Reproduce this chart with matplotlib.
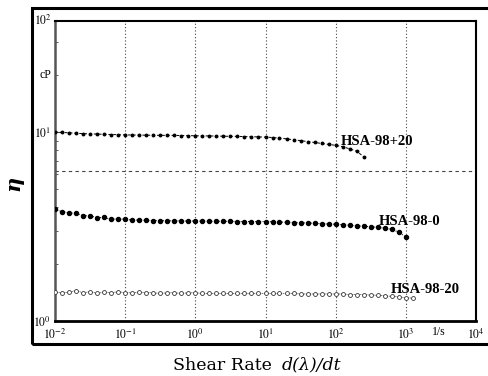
import matplotlib
matplotlib.use("Agg")
import matplotlib.pyplot as plt
from matplotlib.patches import Rectangle
from matplotlib.ticker import FixedLocator, LogLocator, NullFormatter

# shear rate grid (1/s), 10 points per decade
shear_rate = [0.01, 0.0126, 0.0158, 0.02, 0.0251, 0.0316, 0.0398, 0.0501, 0.0631, 0.0794,
              0.1, 0.126, 0.158, 0.2, 0.251, 0.316, 0.398, 0.501, 0.631, 0.794,
              1.0, 1.26, 1.58, 2.0, 2.51, 3.16, 3.98, 5.01, 6.31, 7.94,
              10.0, 12.6, 15.8, 20.0, 25.1, 31.6, 39.8, 50.1, 63.1, 79.4,
              100.0, 126.0, 158.0, 200.0, 251.0, 316.0, 398.0, 501.0, 631.0, 794.0,
              1000.0, 1259.0]

eta_plus20 = [10.0, 9.95, 9.9, 9.85, 9.8, 9.78, 9.75, 9.72, 9.7, 9.68,
              9.65, 9.64, 9.63, 9.62, 9.61, 9.6, 9.6, 9.59, 9.58, 9.57,
              9.55, 9.54, 9.53, 9.52, 9.5, 9.49, 9.48, 9.46, 9.44, 9.42,
              9.4, 9.35, 9.28, 9.2, 9.1, 9.0, 8.9, 8.8, 8.7, 8.6,
              8.5, 8.35, 8.15, 7.9, 7.4]

eta_0 = [3.9, 3.79, 3.74, 3.71, 3.61, 3.6, 3.52, 3.53, 3.45, 3.47,
         3.45, 3.42, 3.42, 3.41, 3.4, 3.4, 3.39, 3.39, 3.38, 3.38,
         3.38, 3.38, 3.37, 3.37, 3.37, 3.37, 3.36, 3.36, 3.36, 3.36,
         3.36, 3.35, 3.34, 3.33, 3.32, 3.31, 3.3, 3.29, 3.27, 3.26,
         3.25, 3.23, 3.21, 3.19, 3.17, 3.15, 3.13, 3.1, 3.05, 2.95, 2.78]

eta_minus20 = [1.42, 1.41, 1.42, 1.45, 1.41, 1.43, 1.40, 1.42, 1.41, 1.43,
               1.41, 1.41, 1.42, 1.41, 1.41, 1.40, 1.41, 1.41, 1.40, 1.41,
               1.41, 1.40, 1.40, 1.40, 1.40, 1.40, 1.40, 1.40, 1.40, 1.40,
               1.40, 1.40, 1.40, 1.40, 1.40, 1.39, 1.39, 1.39, 1.39, 1.39,
               1.39, 1.39, 1.38, 1.38, 1.38, 1.37, 1.37, 1.36, 1.35, 1.34,
               1.33, 1.32]

series_labels = ["HSA-98+20", "HSA-98-0", "HSA-98-20"]
label_pos = [(118, 8.96), (410, 3.38), (614, 1.46)]

x_ticks = [0.01, 0.1, 1, 10, 100, 1000, 10000]
x_ticklabels = ["$10^{-2}$", "$10^{-1}$", "$10^{0}$", "$10^{1}$", "$10^{2}$", "$10^{3}$", "$10^{4}$"]
y_ticks = [1, 10]
y_ticklabels = ["$10^{0}$", "$10^{1}$"]

plt.rcParams['mathtext.fontset'] = 'stix'
fig = plt.figure(figsize=(4.88, 3.76), dpi=100)
fig.patch.set_facecolor('white')

# outer frame
fig.patches.append(Rectangle((32/488, 1-344/376), 1.2, (344-8)/376, transform=fig.transFigure,
                             fill=False, lw=2.2, ec='black'))

ax = fig.add_axes([55/488, 1-321/376, (476-55)/488, 300/376])
ax.set_xscale('log')
ax.set_yscale('log')
ax.set_xlim(0.01, 10000)
ax.set_ylim(1, 10**(300/189))

# grid
for xv in [0.1, 1, 10, 100, 1000]:
    ax.axvline(xv, color='#444444', lw=0.8, ls=(0, (1, 2)), zorder=1)
ax.axhline(10**(150/189), color='#444444', lw=0.8, ls=(0, (3, 3)), zorder=1)

n1 = len(eta_plus20)
ax.plot(shear_rate[:n1], eta_plus20, ls=(0, (3, 2)), lw=0.7, color='black',
        marker='o', ms=1.8, mfc='black', mec='black', zorder=3)
n2 = len(eta_0)
ax.plot(shear_rate[:n2], eta_0, ls=(0, (1, 1.5)), lw=0.7, color='black',
        marker='o', ms=2.9, mfc='black', mec='black', zorder=3)
n3 = len(eta_minus20)
ax.plot(shear_rate[:n3], eta_minus20, ls=(0, (2, 1)), lw=0.5, color='#444444',
        marker='o', ms=2.8, mfc='white', mec='#333333', mew=0.6, zorder=3)

for lab, (xv, yv) in zip(series_labels, label_pos):
    ax.text(xv, yv, lab, fontsize=10.5, fontweight='bold', family='Liberation Serif',
            ha='left', va='center', zorder=4)

ax.xaxis.set_major_locator(FixedLocator(x_ticks))
ax.set_xticklabels(x_ticklabels)
ax.xaxis.set_minor_formatter(NullFormatter())
ax.xaxis.set_minor_locator(FixedLocator([]))
ax.yaxis.set_major_locator(FixedLocator(y_ticks))
ax.set_yticklabels(y_ticklabels)
ax.yaxis.set_minor_locator(LogLocator(base=10, subs=range(2, 10)))
ax.yaxis.set_minor_formatter(NullFormatter())
ax.tick_params(axis='both', which='both', direction='in', labelsize=8.5, color='#444444')
ax.tick_params(axis='x', which='major', length=0, pad=5)
ax.tick_params(axis='y', which='major', length=4, pad=3)
ax.tick_params(axis='y', which='minor', length=2)

ax.text(1.0 * 10**3.47, 10**(-5/189), "1/s", fontsize=8.5, family='Liberation Serif',
        ha='center', va='top', transform=ax.transData)
ax.text(-0.008, 1.0, "$10^{2}$", fontsize=8.5, ha='right', va='center', transform=ax.transAxes)
ax.text(-0.008, (321-75)/300 - 0.0, "cP", fontsize=8.5, family='Liberation Serif',
        ha='right', va='center', transform=ax.transAxes)

for s in ['top', 'right']:
    ax.spines[s].set_linewidth(1.5)
ax.spines['left'].set_linewidth(1.8)
ax.spines['left'].set_color('#555555')
ax.spines['bottom'].set_linewidth(2.0)

fig.text(173/488, 1-365/376, "Shear Rate", fontsize=12.5,
         family='DejaVu Serif', fontweight='light', ha='left', va='center')
fig.text(282/488, 1-365/376, "d(λ)/dt", fontsize=12.5,
         family='DejaVu Serif', style='italic', ha='left', va='center')
fig.text(13/488, 1-183/376, "η", fontsize=15, family='DejaVu Serif', style='italic',
         fontweight='bold', rotation=90, ha='center', va='center')

fig.savefig("out.png", dpi=100)
